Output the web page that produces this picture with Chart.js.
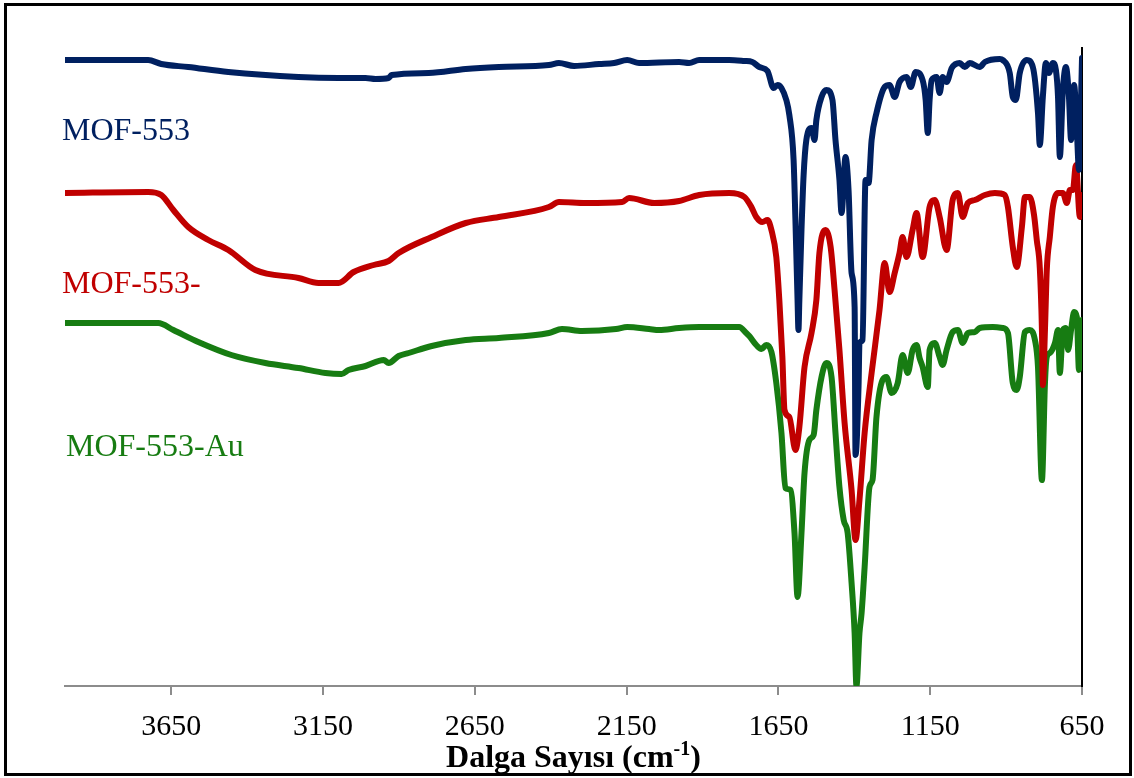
<!DOCTYPE html>
<html>
<head>
<meta charset="utf-8">
<script src="https://cdn.jsdelivr.net/npm/chart.js@4.4.1/dist/chart.umd.min.js"></script>
<style>
  body { margin: 0; background: #fff; }
  #wrap { width: 1134px; height: 778px; }
</style>
</head>
<body>
<div id="wrap"><canvas id="ftirChart" width="1134" height="778"></canvas></div>
<script>
// x tick labels (wavenumber, cm-1)
const xTicks = [3650, 3150, 2650, 2150, 1650, 1150, 650];
const seriesNames = ['MOF-553', 'MOF-553-', 'MOF-553-Au'];

// MOF-553 (offset transmittance, a.u.)
const mof553Wn = [4000, 3726, 3683, 3594, 3462, 3231, 3099, 3010, 2977, 2934, 2924, 2802, 2680, 2571, 2406, 2373, 2323, 2241, 2191, 2148, 2109, 1977, 1944, 1911, 1812, 1762, 1736, 1713, 1686, 1666, 1653, 1640, 1624, 1614, 1600, 1594, 1587, 1584, 1581, 1574, 1567, 1558, 1541, 1531, 1525, 1508, 1492, 1472, 1462, 1449, 1442, 1429, 1419, 1409, 1399, 1396, 1386, 1383, 1373, 1363, 1353, 1343, 1327, 1300, 1284, 1267, 1251, 1228, 1214, 1198, 1175, 1165, 1158, 1152, 1145, 1129, 1119, 1109, 1096, 1079, 1053, 1036, 1020, 987, 970, 921, 911, 888, 878, 868, 855, 832, 812, 795, 789, 779, 769, 759, 746, 736, 729, 723, 713, 703, 693, 686, 676, 667, 660, 653, 650];
const mof553T = [626, 626, 622, 619, 614, 609, 608, 608, 607, 608, 611, 613, 617, 619, 621, 623, 620, 622, 623, 626, 623, 624, 623, 626, 626, 625, 624, 619, 615, 598, 601, 598, 586, 571, 526, 466, 386, 356, 386, 456, 511, 546, 558, 546, 566, 589, 596, 586, 546, 506, 473, 529, 496, 413, 379, 231, 300, 343, 346, 506, 503, 546, 573, 599, 601, 589, 604, 609, 599, 614, 606, 586, 553, 586, 606, 609, 593, 609, 604, 618, 623, 619, 623, 619, 624, 627, 626, 613, 589, 586, 613, 626, 619, 573, 541, 589, 623, 613, 623, 616, 589, 529, 596, 619, 589, 546, 601, 556, 516, 589, 628];

// MOF-553-
const mof553bWn = [4000, 3726, 3683, 3643, 3594, 3528, 3462, 3373, 3231, 3165, 3099, 3049, 2983, 2934, 2901, 2792, 2680, 2571, 2406, 2373, 2284, 2165, 2142, 2059, 1977, 1911, 1812, 1762, 1739, 1723, 1703, 1686, 1673, 1657, 1647, 1637, 1630, 1614, 1594, 1581, 1564, 1541, 1525, 1515, 1495, 1478, 1465, 1449, 1432, 1409, 1396, 1383, 1366, 1343, 1317, 1300, 1284, 1267, 1251, 1241, 1228, 1208, 1195, 1175, 1152, 1135, 1119, 1096, 1076, 1059, 1043, 1026, 1003, 970, 937, 904, 894, 878, 865, 848, 838, 822, 808, 799, 789, 782, 779, 772, 766, 756, 746, 729, 713, 700, 690, 680, 670, 657, 650];
const mof553bT = [493, 494, 491, 476, 459, 446, 436, 416, 408, 403, 403, 414, 421, 425, 433, 449, 463, 469, 479, 484, 483, 484, 488, 483, 485, 491, 493, 489, 479, 469, 464, 466, 456, 429, 386, 329, 276, 269, 236, 259, 319, 353, 386, 433, 456, 439, 396, 336, 263, 196, 146, 186, 253, 313, 376, 423, 394, 413, 433, 449, 429, 456, 473, 429, 479, 486, 469, 436, 486, 493, 469, 483, 486, 491, 493, 491, 479, 439, 419, 459, 489, 489, 471, 446, 418, 356, 301, 356, 416, 449, 479, 493, 493, 483, 496, 496, 521, 469, 491];

// MOF-553-Au
const mof553AuWn = [4000, 3693, 3643, 3561, 3452, 3340, 3231, 3142, 3089, 3066, 3010, 2950, 2934, 2901, 2868, 2792, 2680, 2571, 2406, 2363, 2297, 2185, 2148, 2076, 2043, 1977, 1911, 1779, 1756, 1746, 1723, 1706, 1690, 1673, 1657, 1640, 1627, 1610, 1597, 1587, 1574, 1564, 1548, 1534, 1525, 1508, 1492, 1475, 1462, 1449, 1435, 1422, 1409, 1399, 1393, 1383, 1376, 1366, 1350, 1340, 1327, 1307, 1294, 1277, 1257, 1241, 1224, 1208, 1195, 1185, 1175, 1158, 1152, 1135, 1119, 1109, 1096, 1076, 1059, 1043, 1026, 1003, 987, 944, 911, 894, 878, 865, 855, 838, 822, 805, 795, 782, 772, 766, 756, 739, 729, 723, 713, 703, 696, 686, 676, 667, 660, 650];
const mof553AuT = [363, 363, 356, 344, 331, 323, 318, 313, 312, 316, 320, 326, 323, 330, 333, 340, 346, 348, 353, 357, 355, 357, 359, 357, 356, 358, 359, 359, 353, 350, 341, 337, 341, 334, 303, 253, 198, 196, 153, 89, 153, 213, 246, 251, 276, 309, 323, 309, 253, 199, 166, 153, 103, 53, 0, 53, 73, 119, 199, 206, 269, 306, 309, 293, 303, 331, 313, 336, 341, 328, 319, 299, 336, 343, 329, 321, 336, 354, 356, 343, 353, 354, 358, 359, 358, 353, 303, 296, 309, 354, 356, 346, 319, 206, 303, 329, 333, 343, 356, 313, 356, 358, 336, 356, 374, 369, 316, 366];

const serif = '"Liberation Serif", "Times New Roman", serif';

function toPoints(wn, t) {
  return wn.map((w, i) => ({ x: w, y: t[i] }));
}

const decorPlugin = {
  id: 'decor',
  beforeDraw(chart) {
    const ctx = chart.ctx;
    ctx.save();
    ctx.fillStyle = '#fff';
    ctx.fillRect(0, 0, chart.width, chart.height);
    ctx.restore();
  },
  afterDraw(chart) {
    const { ctx, chartArea, scales } = chart;
    const y = scales.y;
    ctx.save();

    // series labels on the left
    ctx.font = '32px ' + serif;
    ctx.textBaseline = 'alphabetic';
    ctx.textAlign = 'left';
    const labelSpots = [
      { color: '#002060', dx: -3, val: 546 },
      { color: '#c00000', dx: -3, val: 393 },
      { color: '#177c12', dx: 1, val: 230 }
    ];
    labelSpots.forEach((s, i) => {
      ctx.fillStyle = s.color;
      ctx.fillText(seriesNames[i], chartArea.left + s.dx, y.getPixelForValue(s.val));
    });

    // axis title with superscript
    const main = 'Dalga Sayısı (cm';
    const sup = '-1';
    const close = ')';
    ctx.fillStyle = '#000';
    ctx.font = 'bold 32px ' + serif;
    const wMain = ctx.measureText(main).width;
    const wClose = ctx.measureText(close).width;
    ctx.font = 'bold 20px ' + serif;
    const wSup = ctx.measureText(sup).width;
    const total = wMain + wSup + wClose;
    let tx = (chartArea.left + chartArea.right) / 2 - total / 2;
    const base = 767;
    ctx.font = 'bold 32px ' + serif;
    ctx.fillText(main, tx, base);
    tx += wMain;
    ctx.font = 'bold 20px ' + serif;
    ctx.fillText(sup, tx, base - 12);
    tx += wSup;
    ctx.font = 'bold 32px ' + serif;
    ctx.fillText(close, tx, base);

    // outer frame
    ctx.strokeStyle = '#000';
    ctx.lineWidth = 3;
    ctx.strokeRect(5.5, 4.5, chart.width - 9, chart.height - 8);
    ctx.restore();
  }
};

const ctx = document.getElementById('ftirChart').getContext('2d');
new Chart(ctx, {
  type: 'line',
  data: {
    datasets: [
      { label: seriesNames[0], data: toPoints(mof553Wn, mof553T), borderColor: '#002060' },
      { label: seriesNames[1], data: toPoints(mof553bWn, mof553bT), borderColor: '#c00000' },
      { label: seriesNames[2], data: toPoints(mof553AuWn, mof553AuT), borderColor: '#177c12' }
    ]
  },
  options: {
    responsive: false,
    animation: false,
    layout: { padding: { left: 65, right: 52, top: 48, bottom: 19 } },
    elements: {
      point: { radius: 0 },
      line: { borderWidth: 6, cubicInterpolationMode: 'monotone', borderJoinStyle: 'round', borderCapStyle: 'round' }
    },
    plugins: {
      legend: { display: false },
      tooltip: { enabled: false }
    },
    scales: {
      x: {
        type: 'linear',
        reverse: true,
        min: 650,
        max: 4000,
        afterBuildTicks: scale => {
          scale.ticks = xTicks.map(v => ({ value: v }));
        },
        ticks: {
          color: '#000',
          font: { family: serif, size: 30 },
          padding: 14,
          maxRotation: 0,
          autoSkip: false,
          callback: value => String(value)
        },
        grid: {
          drawOnChartArea: false,
          drawTicks: true,
          tickLength: 9,
          color: '#8c8c8c',
          lineWidth: 2
        },
        border: { color: '#8c8c8c', width: 2 }
      },
      y: {
        position: 'right',
        min: 0,
        max: 638,
        ticks: { display: false },
        grid: { display: false, drawTicks: false },
        border: { display: true, color: '#000', width: 2 }
      }
    }
  },
  plugins: [decorPlugin]
});
</script>
</body>
</html>
